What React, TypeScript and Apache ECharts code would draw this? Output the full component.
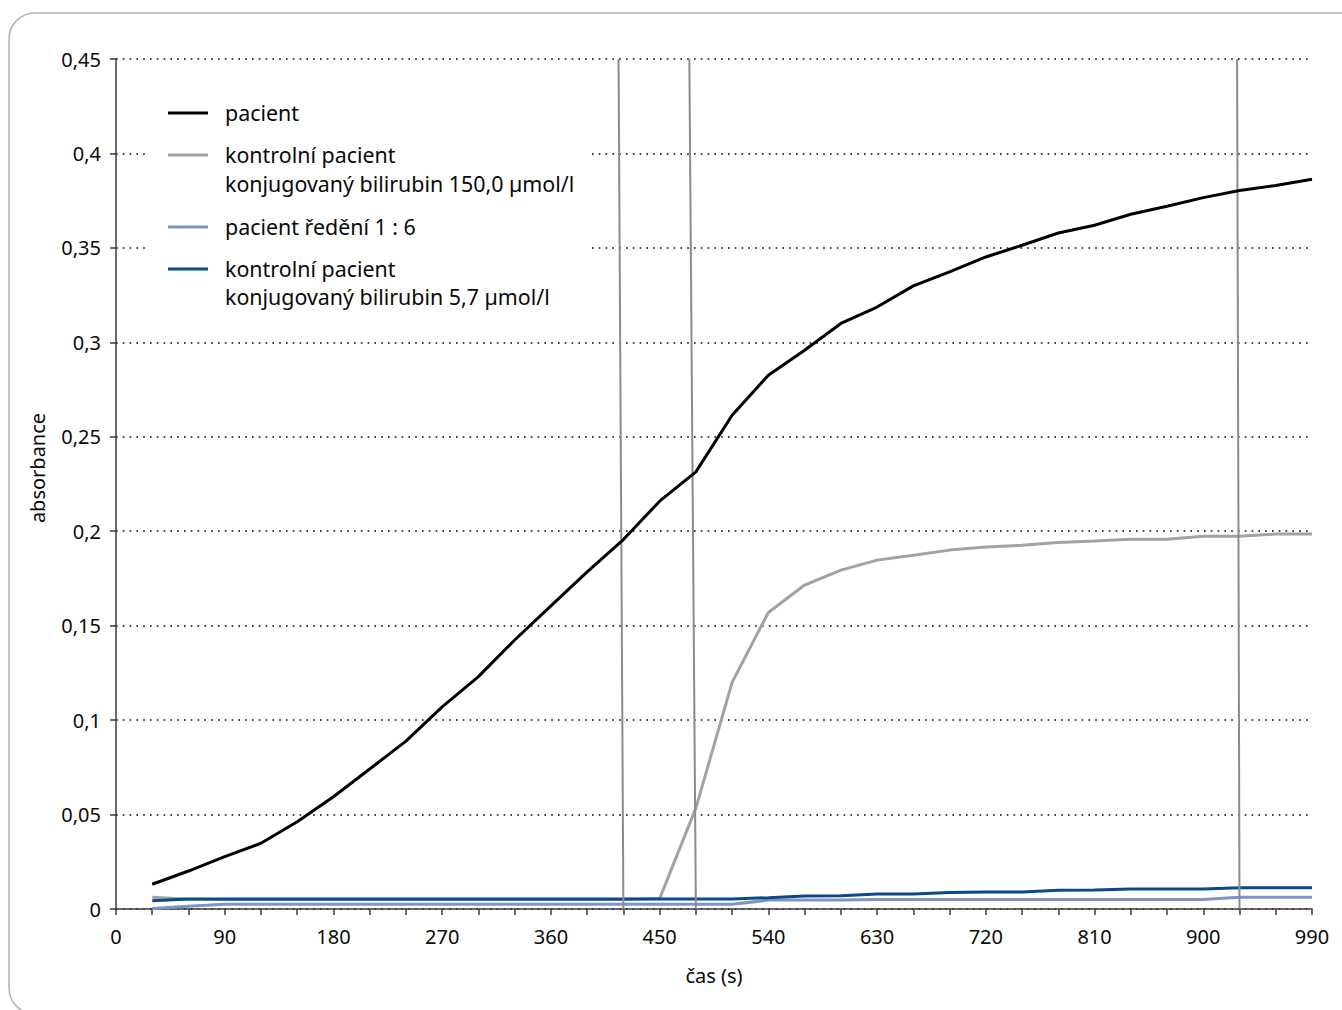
import React, { useEffect, useRef } from "react";
import * as echarts from "echarts";

const times = [30, 60, 90, 120, 150, 180, 210, 240, 270, 300, 330, 360, 390, 420, 450, 480, 510, 540, 570, 600, 630, 660, 690, 720, 750, 780, 810, 840, 870, 900, 930, 960, 990];

const pacient = [0.0131, 0.0201, 0.0277, 0.0348, 0.0462, 0.0594, 0.0741, 0.0889, 0.107, 0.123, 0.1424, 0.1605, 0.1785, 0.1956, 0.2159, 0.2314, 0.2614, 0.2826, 0.2958, 0.31, 0.3187, 0.3299, 0.3373, 0.3452, 0.3514, 0.3579, 0.362, 0.3678, 0.372, 0.3766, 0.3804, 0.383, 0.3863];

const kontrola150 = [0.0062, 0.0052, 0.005, 0.005, 0.005, 0.005, 0.005, 0.005, 0.005, 0.005, 0.005, 0.005, 0.005, 0.005, 0.0055, 0.0534, 0.12, 0.157, 0.1715, 0.1794, 0.1847, 0.1873, 0.19, 0.1916, 0.1926, 0.194, 0.1948, 0.1958, 0.1958, 0.1974, 0.1974, 0.1985, 0.1985];

const pacientRedeni = [0.0003, 0.0015, 0.0025, 0.0025, 0.0025, 0.0025, 0.0025, 0.0025, 0.0025, 0.0025, 0.0025, 0.0025, 0.0025, 0.0025, 0.0025, 0.0025, 0.0025, 0.0047, 0.0048, 0.0048, 0.005, 0.005, 0.005, 0.005, 0.005, 0.005, 0.005, 0.005, 0.005, 0.005, 0.0062, 0.0062, 0.0062];

const kontrola57 = [0.0044, 0.0053, 0.0053, 0.0053, 0.0053, 0.0053, 0.0053, 0.0053, 0.0053, 0.0053, 0.0053, 0.0053, 0.0053, 0.0053, 0.0053, 0.0053, 0.0053, 0.006, 0.0069, 0.007, 0.008, 0.008, 0.0088, 0.009, 0.009, 0.0099, 0.01, 0.0106, 0.0106, 0.0106, 0.0113, 0.0113, 0.0113];

// vertical reference lines: [top x, bottom x] in seconds
const refLines = [
  [416, 420],
  [474.6, 480],
  [928, 930],
];

const legendLabels = [
  ["pacient"],
  ["kontrolní pacient", "konjugovaný bilirubin 150,0 µmol/l"],
  ["pacient ředění 1 : 6"],
  ["kontrolní pacient", "konjugovaný bilirubin 5,7 µmol/l"],
];

const COLORS = ["#000000", "#a2a2a2", "#7d95c5", "#0a4a88"];
const FONT = "'Noto Sans', sans-serif";

export default function App() {
  const ref = useRef<HTMLDivElement>(null);

  useEffect(() => {
    if (!ref.current) return;
    const chart = echarts.init(ref.current, null, { renderer: "svg" });

    const mk = (vals: number[]) => times.map((t, i) => [t, vals[i]]);

    const legendY = [[112], [154, 183], [226], [268, 296]];
    const legendGraphics: any[] = [
      {
        type: "rect",
        shape: { x: 147, y: 80, width: 443, height: 240 },
        style: { fill: "#ffffff" },
        z: 50,
      },
    ];
    legendLabels.forEach((lines, i) => {
      legendGraphics.push({
        type: "line",
        shape: { x1: 168, y1: legendY[i][0] + 1, x2: 208, y2: legendY[i][0] + 1 },
        style: { stroke: COLORS[i], lineWidth: 3 },
        z: 51,
      });
      lines.forEach((txt, j) => {
        legendGraphics.push({
          type: "text",
          x: 225,
          y: legendY[i][j],
          style: {
            text: txt,
            font: `21.4px ${FONT}`,
            fill: "#0a0a0a",
            textAlign: "left",
            textVerticalAlign: "middle",
          },
          z: 51,
        });
      });
    });

    const option: any = {
      animation: false,
      backgroundColor: "#ffffff",
      grid: { left: 116, right: 30, top: 59, bottom: 101, containLabel: false },
      xAxis: {
        type: "value",
        min: 0,
        max: 990,
        interval: 30,
        name: "čas (s)",
        nameLocation: "middle",
        nameGap: 56,
        nameTextStyle: { fontFamily: FONT, fontSize: 20, color: "#0a0a0a" },
        axisLine: { show: true, onZero: false, lineStyle: { color: "#3a3a3a", width: 1.5 } },
        axisTick: { show: true, inside: false, length: 6, lineStyle: { color: "#3a3a3a", width: 1.5 } },
        axisLabel: {
          margin: 17,
          fontFamily: FONT,
          fontSize: 20,
          color: "#0a0a0a",
          formatter: (v: number) => (v % 90 === 0 ? String(v) : ""),
        },
        splitLine: { show: false },
      },
      yAxis: {
        type: "value",
        min: 0,
        max: 0.45,
        interval: 0.05,
        axisLine: { show: true, lineStyle: { color: "#3a3a3a", width: 1.5 } },
        axisTick: { show: true, inside: false, length: 6, lineStyle: { color: "#3a3a3a", width: 1.5 } },
        axisLabel: {
          margin: 15,
          fontFamily: FONT,
          fontSize: 20,
          color: "#0a0a0a",
          formatter: (v: number) => String(+v.toFixed(2)).replace(".", ","),
        },
        splitLine: {
          show: true,
          lineStyle: { color: "#000000", width: 1.6, type: [1.6, 5.2] },
        },
      },
      graphic: [
        {
          type: "rect",
          shape: { x: 9, y: 13, width: 1360, height: 1001, r: 26 },
          style: { fill: "none", stroke: "#b4b4b4", lineWidth: 1.5 },
          z: 100,
          silent: true,
        },
        {
          type: "text",
          x: 37,
          y: 468,
          rotation: Math.PI / 2,
          style: {
            text: "absorbance",
            font: `20px ${FONT}`,
            fill: "#0a0a0a",
            textAlign: "center",
            textVerticalAlign: "middle",
          },
        },
        ...legendGraphics,
      ],
      series: [
        {
          name: "ref",
          type: "line",
          data: [],
          z: 1,
          markLine: {
            silent: true,
            symbol: "none",
            label: { show: false },
            lineStyle: { color: "#8c8c8c", width: 2, type: "solid" },
            data: refLines.map(([top, bottom]) => [
              { coord: [top, 0.45] },
              { coord: [bottom, 0] },
            ]),
          },
        },
        {
          name: "kontrolní pacient konjugovaný bilirubin 150,0 µmol/l",
          type: "line",
          data: mk(kontrola150),
          showSymbol: false,
          lineStyle: { color: COLORS[1], width: 3 },
          itemStyle: { color: COLORS[1] },
          z: 2,
        },
        {
          name: "pacient ředění 1 : 6",
          type: "line",
          data: mk(pacientRedeni),
          showSymbol: false,
          lineStyle: { color: COLORS[2], width: 3 },
          itemStyle: { color: COLORS[2] },
          z: 3,
        },
        {
          name: "kontrolní pacient konjugovaný bilirubin 5,7 µmol/l",
          type: "line",
          data: mk(kontrola57),
          showSymbol: false,
          lineStyle: { color: COLORS[3], width: 3 },
          itemStyle: { color: COLORS[3] },
          z: 4,
        },
        {
          name: "pacient",
          type: "line",
          data: mk(pacient),
          showSymbol: false,
          lineStyle: { color: COLORS[0], width: 3 },
          itemStyle: { color: COLORS[0] },
          z: 5,
        },
      ],
    };

    chart.setOption(option);
    return () => chart.dispose();
  }, []);

  return (
    <div
      ref={ref}
      style={{ position: "fixed", left: 0, top: 0, width: 1342, height: 1010 }}
    />
  );
}
